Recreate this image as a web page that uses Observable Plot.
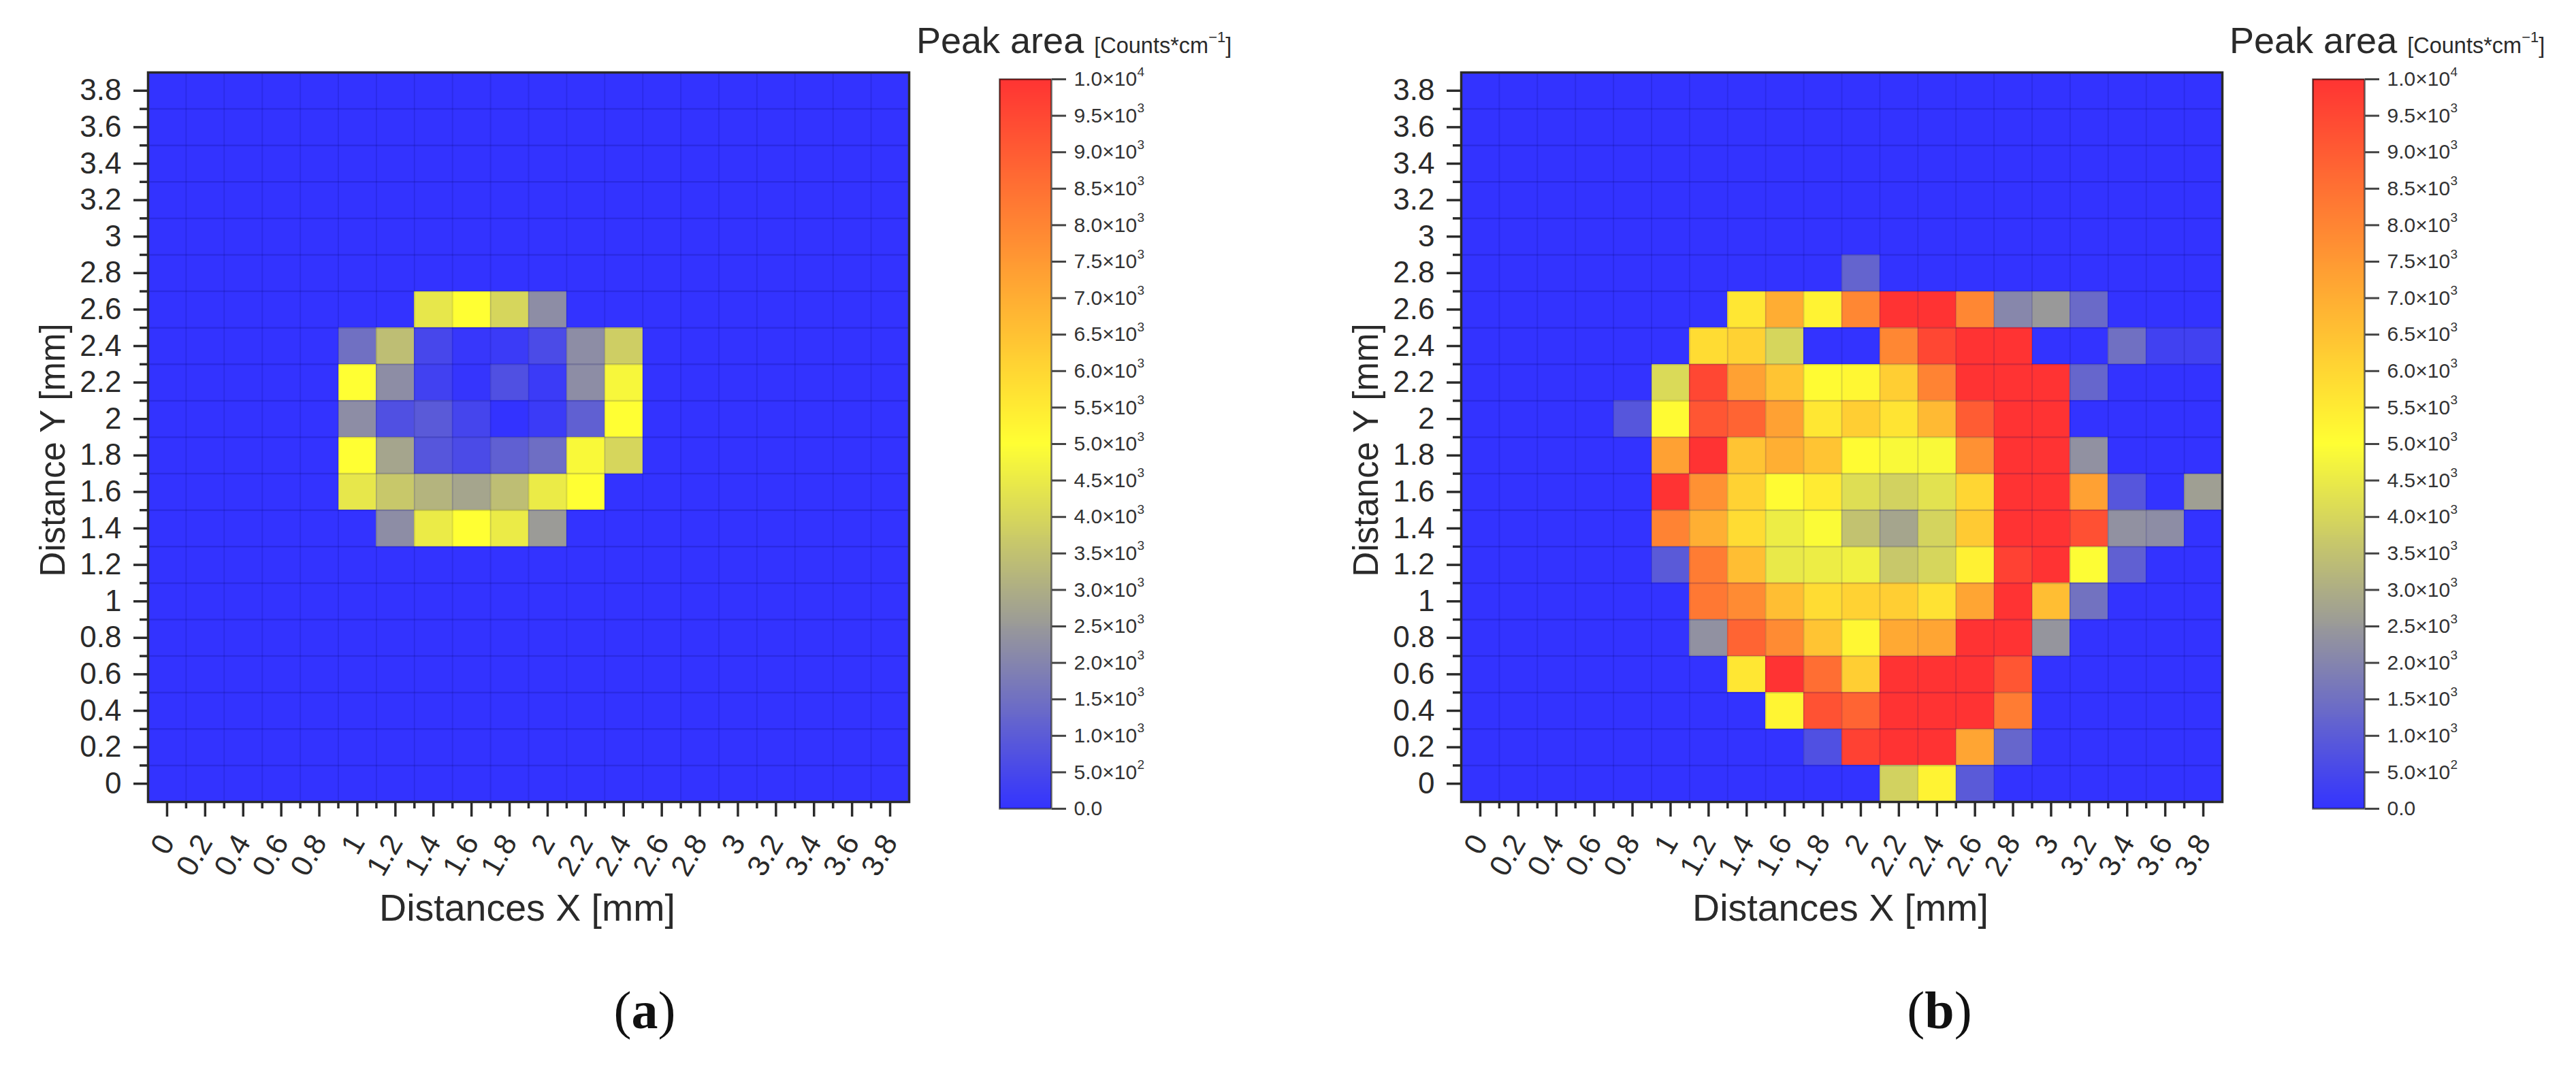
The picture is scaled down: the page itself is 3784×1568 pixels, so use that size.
<!DOCTYPE html>
<html>
<head>
<meta charset="utf-8">
<script src="https://cdn.jsdelivr.net/npm/d3@7"></script>
<script src="https://cdn.jsdelivr.net/npm/@observablehq/plot@0.6"></script>
<style>
html,body{margin:0;padding:0;background:#fff}
#page{position:relative;width:3784px;height:1568px;overflow:hidden;font-family:"Liberation Sans",Arial,sans-serif;color:#2a2a2a}
#page svg{position:absolute;top:0;background:transparent;overflow:visible}
.title{position:absolute;top:27px;font-size:54px;line-height:64px;white-space:nowrap}
.title span{font-size:32.5px}
.title sup{font-size:22px;line-height:0;vertical-align:16px}
.cap{position:absolute;top:1440px;width:200px;text-align:center;font-family:"Liberation Serif",serif;font-size:78px;line-height:90px;color:#111}
</style>
</head>
<body>
<div id="page"></div>
<script>
// Axis positions (mm), shared by both maps; rows below run from 3.8 at the top to 0
const xTicks = [0,0.2,0.4,0.6,0.8,1,1.2,1.4,1.6,1.8,2,2.2,2.4,2.6,2.8,3,3.2,3.4,3.6,3.8];
const yTicks = [3.8,3.6,3.4,3.2,3,2.8,2.6,2.4,2.2,2,1.8,1.6,1.4,1.2,1,0.8,0.6,0.4,0.2,0];

// Peak area, panel (a)
const valuesA = [
[0,0,0,0,0,0,0,0,0,0,0,0,0,0,0,0,0,0,0,0],
[0,0,0,0,0,0,0,0,0,0,0,0,0,0,0,0,0,0,0,0],
[0,0,0,0,0,0,0,0,0,0,0,0,0,0,0,0,0,0,0,0],
[0,0,0,0,0,0,0,0,0,0,0,0,0,0,0,0,0,0,0,0],
[0,0,0,0,0,0,0,0,0,0,0,0,0,0,0,0,0,0,0,0],
[0,0,0,0,0,0,0,0,0,0,0,0,0,0,0,0,0,0,0,0],
[0,0,0,0,0,0,0,4400,5000,4000,2200,0,0,0,0,0,0,0,0,0],
[0,0,0,0,0,1500,3400,500,100,200,600,2200,3800,0,0,0,0,0,0,0],
[0,0,0,0,0,5000,2200,350,50,700,200,2200,4800,0,0,0,0,0,0,0],
[0,0,0,0,0,2200,700,950,450,0,200,1100,5000,0,0,0,0,0,0,0],
[0,0,0,0,0,5000,2800,850,600,1100,1450,4850,4000,0,0,0,0,0,0,0],
[0,0,0,0,0,4400,3650,3150,2800,3400,4500,5000,0,0,0,0,0,0,0,0],
[0,0,0,0,0,0,2200,4500,5000,4500,2550,0,0,0,0,0,0,0,0,0],
[0,0,0,0,0,0,0,0,0,0,0,0,0,0,0,0,0,0,0,0],
[0,0,0,0,0,0,0,0,0,0,0,0,0,0,0,0,0,0,0,0],
[0,0,0,0,0,0,0,0,0,0,0,0,0,0,0,0,0,0,0,0],
[0,0,0,0,0,0,0,0,0,0,0,0,0,0,0,0,0,0,0,0],
[0,0,0,0,0,0,0,0,0,0,0,0,0,0,0,0,0,0,0,0],
[0,0,0,0,0,0,0,0,0,0,0,0,0,0,0,0,0,0,0,0],
[0,0,0,0,0,0,0,0,0,0,0,0,0,0,0,0,0,0,0,0]
];

// Peak area, panel (b)
const valuesB = [
[0,0,0,0,0,0,0,0,0,0,0,0,0,0,0,0,0,0,0,0],
[0,0,0,0,0,0,0,0,0,0,0,0,0,0,0,0,0,0,0,0],
[0,0,0,0,0,0,0,0,0,0,0,0,0,0,0,0,0,0,0,0],
[0,0,0,0,0,0,0,0,0,0,0,0,0,0,0,0,0,0,0,0],
[0,0,0,0,0,0,0,0,0,0,0,0,0,0,0,0,0,0,0,0],
[0,0,0,0,0,0,0,0,0,0,1200,0,0,0,0,0,0,0,0,0],
[0,0,0,0,0,0,0,5600,7000,5300,7950,10000,10000,7950,2050,2500,1350,0,0,0],
[0,0,0,0,0,0,5850,6100,4000,0,0,7950,9500,10000,10000,0,0,1500,350,350],
[0,0,0,0,0,4100,9500,7300,6450,5100,5200,6200,8050,10000,10000,10000,1250,0,0,0],
[0,0,0,0,850,5100,9150,8800,7300,5600,6200,5650,6700,9000,10000,10000,0,0,0,0],
[0,0,0,0,0,7300,10000,6450,6950,6450,5100,4850,4850,7700,10000,10000,2300,0,0,0],
[0,0,0,0,0,10000,7700,6100,5100,5500,4200,3900,4300,6000,10000,10000,7300,850,0,2650],
[0,0,0,0,0,8050,6950,5850,4550,4900,3500,2800,3950,6300,10000,10000,9300,2300,2200,0],
[0,0,0,0,0,950,8200,6600,4450,4550,4650,3650,4000,5350,9650,10000,4950,1100,0,0],
[0,0,0,0,0,0,8300,7850,6600,5850,6100,6200,5700,7200,10000,6600,1550,0,0,0],
[0,0,0,0,0,0,2300,8800,7850,6450,5200,7100,7200,10000,10000,2400,0,0,0,0],
[0,0,0,0,0,0,0,5600,10000,8550,6200,10000,10000,10000,9150,0,0,0,0,0],
[0,0,0,0,0,0,0,0,5250,9250,8800,10000,10000,10000,8200,0,0,0,0,0],
[0,0,0,0,0,0,0,0,0,700,9650,10000,10000,7200,1250,0,0,0,0,0],
[0,0,0,0,0,0,0,0,0,0,0,3900,5300,950,0,0,0,0,0,0]
];

// Colour bar ticks
const barTicks = [0,500,1000,1500,2000,2500,3000,3500,4000,4500,5000,5500,6000,6500,7000,7500,8000,8500,9000,9500,10000];
const barLabels = ["0.0","5.0×10","1.0×10","1.5×10","2.0×10","2.5×10","3.0×10","3.5×10","4.0×10","4.5×10","5.0×10","5.5×10","6.0×10","6.5×10","7.0×10","7.5×10","8.0×10","8.5×10","9.0×10","9.5×10","1.0×10"];
const barExponents = ["","2","3","3","3","3","3","3","3","3","3","3","3","3","3","3","3","3","3","3","4"];

const colorStops = [0,5000,10000];
const colorRange = ["#3333ff","#ffff33","#ff3333"];
const colorScale = {type:"linear",domain:colorStops,range:colorRange,interpolate:"rgb"};
const ink = "#2a2a2a";
const page = document.getElementById("page");

const midpoints = a => a.slice(0,-1).map((d,i) => (d + a[i+1]) / 2);
const xEdges = midpoints(xTicks);
const yEdges = midpoints(yTicks);
const halfStep = 0.1;

function drawMap(values, offset, letter, captionLeft) {
  const cells = values.flatMap((row,r) => row.map((v,c) => ({x:xTicks[c],y:yTicks[r],v})));
  const chart = Plot.plot({
    width:1345,height:1400,
    marginLeft:217,marginRight:10,marginTop:106,marginBottom:222,
    x:{domain:[-halfStep,3.8+halfStep],axis:null},
    y:{domain:[-halfStep,3.8+halfStep],axis:null},
    color:colorScale,
    style:{fontFamily:"Liberation Sans",background:"transparent",color:ink},
    marks:[
      Plot.rect(cells,{x1:d=>d.x-halfStep,x2:d=>d.x+halfStep,y1:d=>d.y-halfStep,y2:d=>d.y+halfStep,fill:"v",shapeRendering:"crispEdges"}),
      Plot.ruleX(xEdges,{stroke:"#000060",strokeOpacity:0.14,strokeWidth:2}),
      Plot.ruleY(yEdges,{stroke:"#000060",strokeOpacity:0.17,strokeWidth:2.5}),
      Plot.frame({stroke:ink,strokeWidth:3.5}),
      Plot.axisX({ticks:xEdges,tickSize:10,tickFormat:()=>"",label:null,strokeWidth:3.5,stroke:ink}),
      Plot.axisY({ticks:yEdges,tickSize:12,tickFormat:()=>"",label:null,strokeWidth:3.5,stroke:ink}),
      Plot.axisX({ticks:xTicks,tickSize:22,tickPadding:30,tickRotate:-60,tickFormat:String,label:null,fontSize:44,strokeWidth:3.5,stroke:ink,fill:ink}),
      Plot.axisY({ticks:yTicks,tickSize:21,tickPadding:18,tickFormat:String,label:null,fontSize:44,strokeWidth:3.5,stroke:ink,fill:ink}),
      Plot.text(["Distances X [mm]"],{frameAnchor:"bottom",dy:174,dx:-2,fontSize:55.5,fill:ink,lineAnchor:"bottom"}),
      Plot.text(["Distance Y [mm]"],{frameAnchor:"left",textAnchor:"middle",dx:-139,dy:19,rotate:-90,fontSize:51,fill:ink})
    ]
  });
  chart.style.left = offset + "px";
  page.appendChild(chart);

  const steps = d3.range(0,10000,25);
  const bar = Plot.plot({
    width:620,height:1230,
    marginLeft:123,marginRight:421,marginTop:116,marginBottom:42,
    y:{domain:[0,10000],axis:null},
    color:colorScale,
    style:{fontFamily:"Liberation Sans",background:"transparent",color:ink},
    marks:[
      Plot.barY(steps,{y1:d=>d,y2:d=>d+25,fill:d=>d+12.5,shapeRendering:"crispEdges"}),
      Plot.frame({stroke:"#000",strokeOpacity:0.6,strokeWidth:2.5}),
      Plot.axisY({anchor:"right",ticks:barTicks,tickSize:21,tickPadding:12,label:null,
        tickFormat:d=>barLabels[barTicks.indexOf(d)],fontSize:30,strokeWidth:3,stroke:"#444",fill:"#333"}),
      Plot.text(barTicks,{y:d=>d,text:d=>barExponents[barTicks.indexOf(d)],frameAnchor:"right",textAnchor:"start",dx:126,dy:-11,fontSize:19,fill:"#333"})
    ]
  });
  bar.style.left = (offset + 1345) + "px";
  page.appendChild(bar);

  const title = document.createElement("div");
  title.className = "title";
  title.style.left = (offset + 1346) + "px";
  title.innerHTML = "Peak area <span>[Counts*cm<sup>−1</sup>]</span>";
  page.appendChild(title);

  const cap = document.createElement("div");
  cap.className = "cap";
  cap.style.left = captionLeft + "px";
  cap.innerHTML = "(<b>" + letter + "</b>)";
  page.appendChild(cap);
}

drawMap(valuesA, 0, "a", 847);
drawMap(valuesB, 1929, "b", 2749);
</script>
</body>
</html>
